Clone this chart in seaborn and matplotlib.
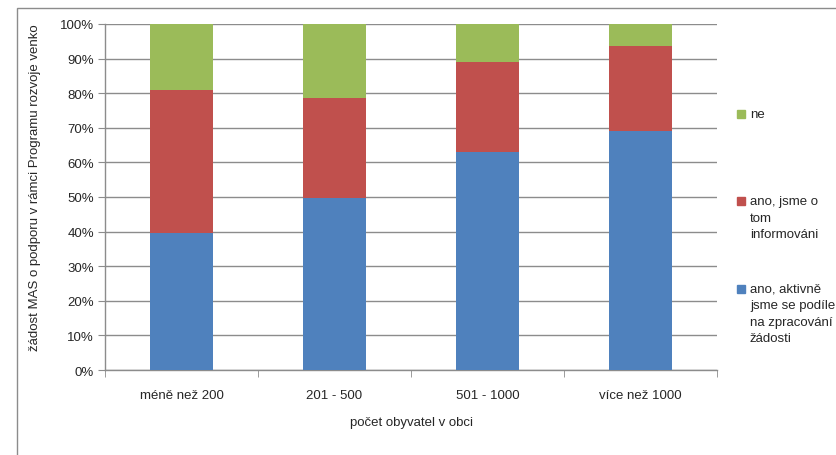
import numpy as np
import pandas as pd
import matplotlib
matplotlib.use("Agg")
import matplotlib.pyplot as plt
from matplotlib.patches import Rectangle
import seaborn as sns

# values (share of answers, %)
categories = ["méně než 200", "201 - 500", "501 - 1000", "více než 1000"]
aktivne = [39.7, 49.6, 63.1, 69.2]
informovani = [41.3, 29.1, 25.8, 24.5]
ne = [19.0, 21.3, 11.1, 6.3]

labels = ["ano, aktivně\njsme se podíle\nna zpracování\nžádosti",
          "ano, jsme o\ntom\ninformováni",
          "ne"]
colors = ["#4F81BD", "#C0504D", "#9BBB59"]
yticks = [0, 10, 20, 30, 40, 50, 60, 70, 80, 90, 100]

sns.set_style("white")
plt.rcParams["font.family"] = ["Liberation Sans", "DejaVu Sans"]
FS = 9.5

df = pd.DataFrame({"kategorie": categories, "a": aktivne, "b": informovani, "c": ne})
df["top_a"] = df["a"]
df["top_b"] = df["a"] + df["b"]
df["top_c"] = df["top_b"] + df["c"]

fig = plt.figure(figsize=(8.36, 4.56), dpi=100)
ax = fig.add_axes([105 / 836, 1 - 371 / 456, 612 / 836, 346 / 456])

# stacked bars: draw cumulative totals back to front
for col, color in zip(["top_c", "top_b", "top_a"], colors[::-1]):
    sns.barplot(data=df, x="kategorie", y=col, color=color, width=0.41,
                saturation=1, linewidth=0, ax=ax, zorder=3)

ax.set_ylim(0, 100)
ax.set_xlim(-0.5, 3.5)
ax.set_yticks(yticks)
ax.set_yticklabels([f"{t}%" for t in yticks], fontsize=FS)
ax.yaxis.grid(True, color="#8c8c8c", lw=1, zorder=0)
ax.tick_params(axis="y", length=5, color="#8c8c8c", pad=3, left=True)
ax.tick_params(axis="x", which="major", length=0, pad=14, labelsize=FS)
ax.set_xticks([-0.5, 0.5, 1.5, 2.5, 3.5], minor=True)
ax.tick_params(axis="x", which="minor", length=5, color="#8c8c8c", bottom=True)

for s in ["top", "right"]:
    ax.spines[s].set_visible(False)
for s in ["left", "bottom"]:
    ax.spines[s].set_color("#8c8c8c")
    ax.spines[s].set_linewidth(1)

ax.set_xlabel("")
ax.set_ylabel("")
fig.text(411 / 836, 1 - 423 / 456, "počet obyvatel v obci", ha="center", va="center", fontsize=FS)
fig.text(35 / 836, 1 - 188 / 456, "žádost MAS o podporu v rámci Programu rozvoje venko",
         rotation=90, ha="center", va="center", fontsize=FS)

# legend, laid out like the original (swatch next to the first line)
leg_y = [290, 202, 115]
for lab, color, y in zip(labels, colors, leg_y):
    fig.patches.append(Rectangle((737 / 836, 1 - (y + 4) / 456), 8 / 836, 8 / 456,
                                 transform=fig.transFigure, color=color))
    fig.text(750 / 836, 1 - (y - 6) / 456, lab, ha="left", va="top",
             fontsize=FS, linespacing=1.5)

# outer chart frame
fig.patches.append(Rectangle((17 / 836, -0.1), 1.2, 1.1 - 9 / 456,
                             transform=fig.transFigure, fill=False,
                             edgecolor="#8c8c8c", lw=1))

fig.savefig("out.png", dpi=100)
